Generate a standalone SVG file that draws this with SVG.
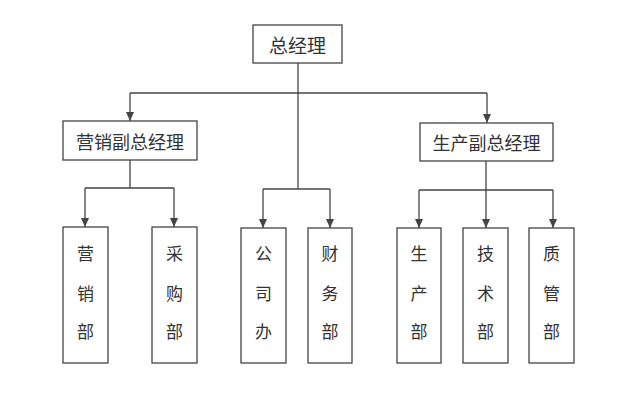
<svg xmlns="http://www.w3.org/2000/svg" width="627" height="393" viewBox="0 0 627 393">
<defs>
<marker id="arr" markerWidth="9" markerHeight="8" refX="9" refY="4" orient="auto" markerUnits="userSpaceOnUse" viewBox="0 0 9 8">
<path d="M0,0 L9,4 L0,8 Z" fill="#444"/>
</marker>
<style>
.box{fill:#fff;stroke:#444;stroke-width:1.3}
.ln{fill:none;stroke:#444;stroke-width:1.3}
text{font-family:"Noto Sans CJK SC","Noto Sans CJK TC",sans-serif;fill:#333;text-anchor:middle;dominant-baseline:central}
.t1{font-size:19px}
.t2{font-size:18px}
.t3{font-size:17px}
</style>
</defs>
<rect width="627" height="393" fill="#fff"/>
<g id="connectors">
<path class="ln" d="M298,63 V189"/>
<path class="ln" d="M130,93 H487"/>
<path class="ln" d="M130,93 V121" marker-end="url(#arr)"/>
<path class="ln" d="M487,93 V123" marker-end="url(#arr)"/>
<path class="ln" d="M130,160 V188 M85,188 H174"/>
<path class="ln" d="M85,188 V227" marker-end="url(#arr)"/>
<path class="ln" d="M174,188 V227" marker-end="url(#arr)"/>
<path class="ln" d="M263,189 H330"/>
<path class="ln" d="M263,189 V228" marker-end="url(#arr)"/>
<path class="ln" d="M330,189 V228" marker-end="url(#arr)"/>
<path class="ln" d="M419,190 H553"/>
<path class="ln" d="M486,161 V228" marker-end="url(#arr)"/>
<path class="ln" d="M419,190 V228" marker-end="url(#arr)"/>
<path class="ln" d="M553,190 V228" marker-end="url(#arr)"/>
</g>
<g id="n-zjl"><rect class="box" x="253" y="25" width="89" height="38"/><text class="t1" x="297.500" y="44">总经理</text></g>
<g id="n-yxfz"><rect class="box" x="63" y="121" width="134" height="39"/><text class="t2" x="130" y="140.500">营销副总经理</text></g>
<g id="n-scfz"><rect class="box" x="420" y="123" width="133" height="38"/><text class="t2" x="486.500" y="142">生产副总经理</text></g>
<g id="n-yxb"><rect class="box" x="63" y="227" width="45" height="136"/><text class="t3" x="85.500" y="252">营</text><text class="t3" x="85.500" y="292">销</text><text class="t3" x="85.500" y="330">部</text></g>
<g id="n-cgb"><rect class="box" x="152" y="227" width="45" height="136"/><text class="t3" x="174.500" y="252">采</text><text class="t3" x="174.500" y="292">购</text><text class="t3" x="174.500" y="330">部</text></g>
<g id="n-gsb"><rect class="box" x="241" y="228" width="45" height="135"/><text class="t3" x="263.500" y="252">公</text><text class="t3" x="263.500" y="292">司</text><text class="t3" x="263.500" y="330">办</text></g>
<g id="n-cwb"><rect class="box" x="308" y="228" width="44" height="135"/><text class="t3" x="330" y="252">财</text><text class="t3" x="330" y="292">务</text><text class="t3" x="330" y="330">部</text></g>
<g id="n-scb"><rect class="box" x="397" y="228" width="44" height="135"/><text class="t3" x="419" y="252">生</text><text class="t3" x="419" y="292">产</text><text class="t3" x="419" y="330">部</text></g>
<g id="n-jsb"><rect class="box" x="463" y="228" width="45" height="135"/><text class="t3" x="485.500" y="252">技</text><text class="t3" x="485.500" y="292">术</text><text class="t3" x="485.500" y="330">部</text></g>
<g id="n-zgb"><rect class="box" x="529" y="228" width="45" height="135"/><text class="t3" x="551.500" y="252">质</text><text class="t3" x="551.500" y="292">管</text><text class="t3" x="551.500" y="330">部</text></g>
</svg>
